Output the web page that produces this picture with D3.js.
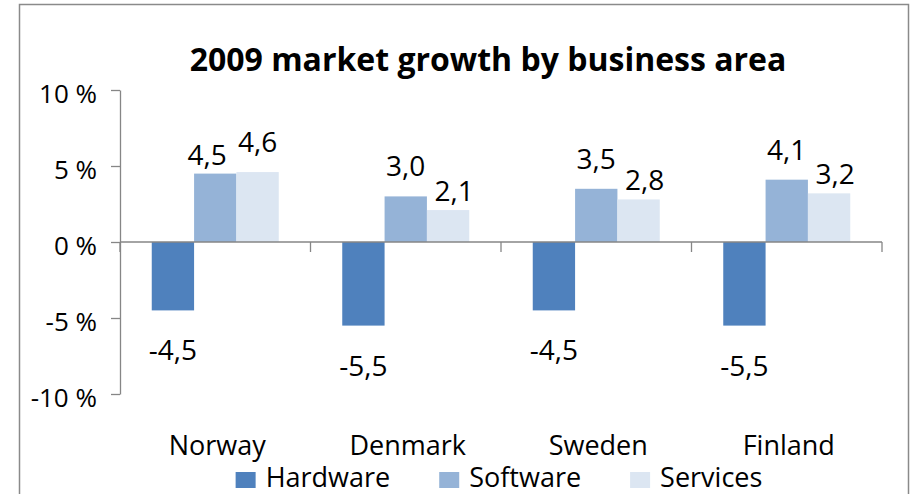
<!DOCTYPE html>
<html>
<head>
<meta charset="utf-8">
<script src="https://cdn.jsdelivr.net/npm/d3@7/dist/d3.min.js"></script>
<style>
  html, body { margin: 0; padding: 0; background: #fff; }
  svg { display: block; }
  text { font-family: "Open Sans", Carlito, Calibri, Lato, "Liberation Sans", sans-serif; fill: #000; }
</style>
</head>
<body>
<svg id="chart" width="913" height="494"></svg>
<script>
// ---- data ----
const title = "2009 market growth by business area";
const categories = ["Norway", "Denmark", "Sweden", "Finland"];
const seriesNames = ["Hardware", "Software", "Services"];
const hardware = [-4.5, -5.5, -4.5, -5.5];
const software = [4.5, 3.0, 3.5, 4.1];
const services = [4.6, 2.1, 2.8, 3.2];
const yTickValues = [-10, -5, 0, 5, 10];
const yTickLabels = ["-10 %", "-5 %", "0 %", "5 %", "10 %"];
const colors = ["#4F81BD", "#95B3D7", "#DCE6F2"];

const seriesValues = [hardware, software, services];

// ---- layout ----
const plot = { left: 120, right: 882, top: 90, bottom: 394 };
const axisColor = "#868686";
const svg = d3.select("#chart");

// outer frame
svg.append("rect")
  .attr("x", 19.5).attr("y", 4.5)
  .attr("width", 889).attr("height", 520)
  .attr("fill", "#fff").attr("stroke", "#8a8a8a").attr("stroke-width", 1.5);

// title
svg.append("text")
  .attr("x", 488).attr("y", 71)
  .attr("text-anchor", "middle")
  .attr("font-size", 32).attr("font-weight", "bold")
  .text(title);

// scales
const y = d3.scaleLinear().domain([-10, 10]).range([plot.bottom, plot.top]);
const x0 = d3.scaleBand().domain(categories).range([plot.left, plot.right]).paddingInner(0).paddingOuter(0);
const x1 = d3.scaleBand().domain(seriesNames).range([0, x0.bandwidth()]).paddingInner(0).paddingOuter(0.75);
const color = d3.scaleOrdinal().domain(seriesNames).range(colors);

const locale = d3.formatLocale({ decimal: ",", thousands: " ", grouping: [3], currency: ["", ""], minus: "-" });
const fmt = locale.format(".1f");

// y axis
const yAxis = d3.axisLeft(y)
  .tickValues(yTickValues)
  .tickFormat((d) => yTickLabels[yTickValues.indexOf(d)])
  .tickSize(9).tickSizeOuter(0).tickPadding(14);
const gy = svg.append("g").attr("transform", `translate(${plot.left},0)`).call(yAxis);
gy.attr("font-family", null).attr("font-size", null);
gy.selectAll("path, line").attr("stroke", axisColor).attr("stroke-width", 1.3);
gy.selectAll("text").attr("font-size", 26).attr("dy", 12).attr("fill", "#000");

// bars
const rows = categories.map((c, i) => ({ cat: c, vals: seriesNames.map((s, j) => ({ s, v: seriesValues[j][i] })) }));
const groups = svg.append("g").selectAll("g").data(rows).join("g")
  .attr("transform", (d) => `translate(${x0(d.cat)},0)`);
groups.selectAll("rect").data((d) => d.vals).join("rect")
  .attr("x", (d) => x1(d.s))
  .attr("width", x1.bandwidth())
  .attr("y", (d) => y(Math.max(0, d.v)))
  .attr("height", (d) => Math.abs(y(d.v) - y(0)))
  .attr("fill", (d) => color(d.s));

// x axis line and ticks
const gx = svg.append("g");
gx.append("line")
  .attr("x1", plot.left).attr("x2", plot.right)
  .attr("y1", y(0)).attr("y2", y(0))
  .attr("stroke", axisColor).attr("stroke-width", 1.3);
const bounds = categories.map((c) => x0(c)).concat([x0.range()[1]]);
gx.selectAll("line.tick").data(bounds).join("line").attr("class", "tick")
  .attr("x1", (d) => d).attr("x2", (d) => d)
  .attr("y1", y(0)).attr("y2", y(0) + 10)
  .attr("stroke", axisColor).attr("stroke-width", 1.3);

// category labels
svg.append("g").selectAll("text").data(categories).join("text")
  .attr("x", (d) => x0(d) + x0.bandwidth() / 2 + 2)
  .attr("y", 455)
  .attr("text-anchor", "middle")
  .attr("font-size", 27)
  .text((d) => d);

// data labels
groups.each(function (d) {
  const g = d3.select(this);
  const labels = d.vals.map((e) => {
    const base = e.v < 0 ? y(e.v) + 50 : y(e.v) - 9;
    return { ...e, yb: base, dx: 0 };
  });
  // stagger: raise the label of the taller positive bar, nudge the other one sideways
  const pos = labels.filter((e) => e.v > 0);
  if (pos.length > 1) {
    const top = pos.reduce((a, b) => (b.v > a.v ? b : a));
    const low = pos.find((e) => e !== top);
    top.yb -= 11;
    low.dx = x1(low.s) < x1(top.s) ? -8 : 6;
  }
  g.selectAll("text.lbl").data(labels).join("text").attr("class", "lbl")
    .attr("x", (e) => x1(e.s) + x1.bandwidth() / 2 + e.dx)
    .attr("y", (e) => e.yb)
    .attr("text-anchor", "middle")
    .attr("font-size", 28)
    .text((e) => fmt(e.v));
});

// legend
const legend = svg.append("g");
const items = legend.selectAll("g").data(seriesNames).join("g");
items.append("rect").attr("width", 20).attr("height", 16).attr("y", 472)
  .attr("fill", (d) => color(d));
items.append("text").attr("x", 30).attr("y", 487).attr("font-size", 27).text((d) => d);
let cx = 0;
const offs = [];
items.each(function () {
  const w = this.querySelector("text").getComputedTextLength();
  offs.push(cx);
  cx += 30 + w + 49;
});
const total = cx - 49;
const startX = 499 - total / 2;
items.attr("transform", (d, i) => `translate(${startX + offs[i]},0)`);
</script>
</body>
</html>
